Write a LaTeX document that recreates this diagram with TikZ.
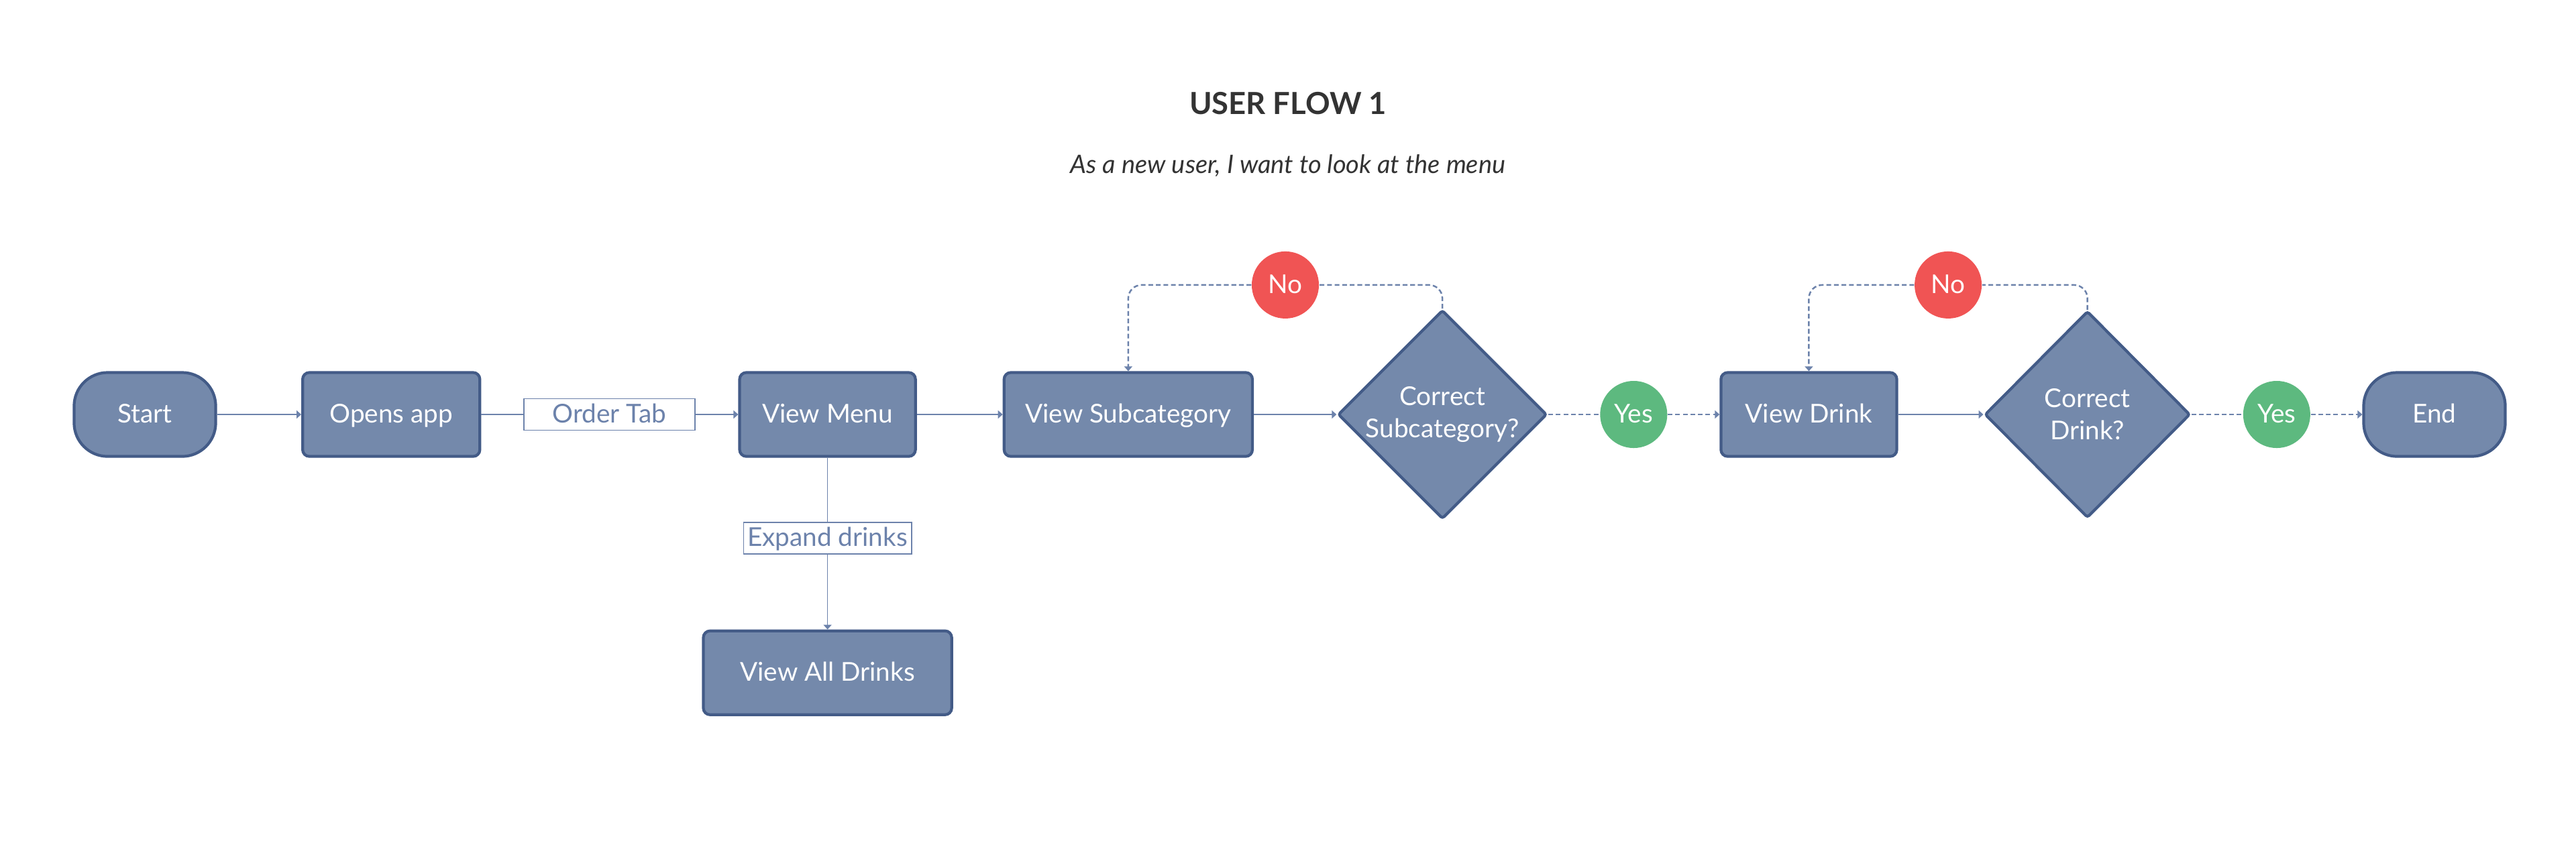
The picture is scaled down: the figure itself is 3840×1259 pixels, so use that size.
\documentclass[tikz,border=0pt]{standalone}
\usepackage{fontspec}
\setmainfont{Lato}
\usetikzlibrary{positioning,shapes.geometric,arrows.meta,calc}
\definecolor{slate}{HTML}{7489AB}
\definecolor{slateline}{HTML}{435B87}
\definecolor{flowline}{HTML}{6C82AB}
\definecolor{nored}{HTML}{F05454}
\definecolor{yesgreen}{HTML}{5DB97F}
\definecolor{titlegray}{HTML}{333333}
\begin{document}
\begin{tikzpicture}[x=0.01cm, y=-0.01cm, node distance={36.7mm},
        font=\fontsize{11}{13.6}\selectfont,
        terminal/.style = {draw=slateline, fill=slate, line width=1.2pt, rounded corners=5mm, minimum width=21.1mm, minimum height=12.5mm, text height=0.9em, text depth=0.18em, text=white},
        stepbox/.style = {draw=slateline, fill=slate, line width=1.2pt, rounded corners=1mm, minimum height=12.5mm, text height=0.9em, text depth=0.18em, text=white},
        decision/.style = {diamond, draw=slateline, fill=slate, line width=1.2pt, rounded corners=1pt, minimum width=30.6mm, minimum height=30.8mm, inner sep=0pt, align=center, text=white},
        edgetag/.style = {draw=flowline, fill=white, line width=0.5pt, minimum height=4.7mm, inner sep=0pt, text height=0.9em, text depth=0.18em, text=flowline},
        bubble/.style = {circle, minimum size=10mm, inner sep=0pt, text height=0.9em, text depth=0.18em, text=white},
        flow/.style = {draw=flowline, line width=0.5pt},
        hop/.style = {draw=flowline, line width=0.7pt, dash pattern=on 2pt off 1.2pt},
        arrowed/.style = {-{Triangle[length=0.7mm,width=1.2mm]}}]
        \useasboundingbox (0,0) rectangle (3840,1259);
        \node[font=\fontsize{12.9}{16}\selectfont\bfseries, text=titlegray] (title) at (1920,154) {USER FLOW 1};
        \node[font=\fontsize{10.8}{13}\selectfont\itshape, text=titlegray] (subtitle) [below of=title, node distance=9.3mm] {As a new user, I want to look at the menu};
        \node[terminal] (start) at (216,618) {Start};
        \node[stepbox, minimum width=26.4mm] (opens) [right of=start] {Opens app};
        \node[edgetag, minimum width=25.5mm] (ordertab) [right of=opens, node distance=32.5mm] {Order Tab};
        \node[stepbox, minimum width=26.2mm] (menu) [right of=ordertab, node distance=32.5mm] {View Menu};
        \node[edgetag, minimum width=25mm] (expand) [below of=menu, node distance=18.4mm] {Expand drinks};
        \node[stepbox, minimum width=37mm] (alldrinks) [below of=expand, node distance=20.1mm] {View All Drinks};
        \node[stepbox, minimum width=37mm] (subcat) [right of=menu, node distance=44.8mm] {View Subcategory};
        \node[decision] (subcheck) [right of=subcat, node distance=46.8mm] {Correct\\Subcategory?};
        \node[bubble, fill=yesgreen] (yes1) [right of=subcheck, node distance=28.5mm] {Yes};
        \node[stepbox, minimum width=26.2mm] (drink) [right of=yes1, node distance=26.1mm] {View Drink};
        \node[decision] (drinkcheck) [right of=drink, node distance=41.5mm] {Correct\\Drink?};
        \node[bubble, fill=yesgreen] (yes2) [right of=drinkcheck, node distance=28.2mm] {Yes};
        \node[terminal] (finish) [right of=yes2, node distance=23.5mm] {End};
        \node[bubble, fill=nored, yshift=19.3mm] (no1) at ($(subcat)!0.5!(subcheck)$) {No};
        \node[bubble, fill=nored, yshift=19.3mm] (no2) at ($(drink)!0.5!(drinkcheck)$) {No};
        \draw[flow, arrowed] (start) -- (opens);
        \draw[flow] (opens) -- (ordertab);
        \draw[flow, arrowed] (ordertab) -- (menu);
        \draw[flow] (menu) -- (expand);
        \draw[flow, arrowed] (expand) -- (alldrinks);
        \draw[flow, arrowed] (menu) -- (subcat);
        \draw[flow, arrowed] (subcat) -- (subcheck);
        \draw[hop] (subcheck) -- (yes1);
        \draw[hop, arrowed] (yes1) -- (drink);
        \draw[flow, arrowed] (drink) -- (drinkcheck);
        \draw[hop] (drinkcheck) -- (yes2);
        \draw[hop, arrowed] (yes2) -- (finish);
        \draw[hop, rounded corners=2mm] (subcheck.north) |- (no1);
        \draw[hop, arrowed, rounded corners=2mm] (no1) -| (subcat.north);
        \draw[hop, rounded corners=2mm] (drinkcheck.north) |- (no2);
        \draw[hop, arrowed, rounded corners=2mm] (no2) -| (drink.north);
    \end{tikzpicture}
\end{document}
